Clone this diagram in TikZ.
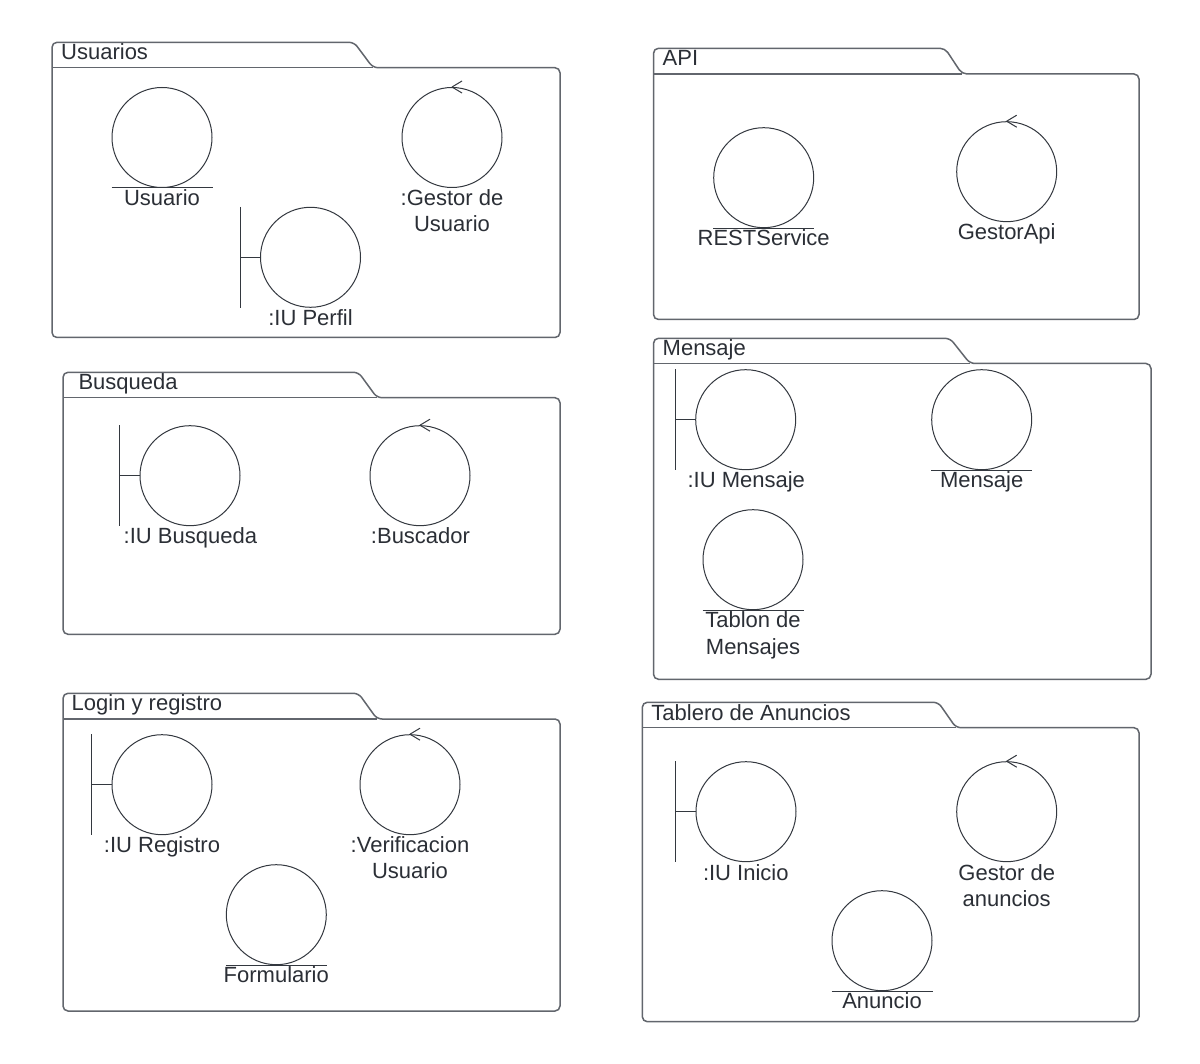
\documentclass[tikz,border=0pt]{standalone}
\usepackage{fontspec}
\setmainfont{Liberation Sans}
\definecolor{txtcol}{HTML}{2B2F36}
\definecolor{pkgcol}{HTML}{62666D}
\definecolor{objcol}{HTML}{33383F}
\newcommand{\lblfont}{\fontsize{22}{26}\selectfont}
\tikzset{
  pkg/.style={draw=pkgcol, line width=1.5pt, rounded corners=5pt},
  pkgline/.style={draw=pkgcol, line width=1.5pt},
  obj/.style={circle, draw=objcol, line width=1pt, minimum size=100pt, inner sep=0pt},
  objline/.style={draw=objcol, line width=1pt},
  lbl/.style={text=txtcol, font=\lblfont, anchor=base, inner sep=0pt},
  ttl/.style={text=txtcol, font=\lblfont, anchor=base west, inner sep=0pt}
}
\begin{document}
\begin{tikzpicture}[x=1pt,y=-1pt]
\useasboundingbox (0,0) rectangle (1200,1064);
\fill[white] (0,0) rectangle (1200,1064);

% ---------- Usuarios ----------
\draw[pkg] (52,67.7) -- (52,42.3) -- (354,42.3) -- (373,67.7) -- (560,67.7) -- (560,337.5) -- (52,337.5) -- cycle;
\draw[pkgline] (52,67.7) -- (373,67.7);
\node[ttl] (tUsuarios) at (61,59.5) {Usuarios};
\node[obj] (usuario) at (162,137.5) {};
\draw[objline] (usuario.south -| usuario.west) -- (usuario.south -| usuario.east);
\node[lbl] (lUsuario) at (162,205.7) {Usuario};
\node[obj] (gestorU) at (452,137.5) {};
\draw[objline] (gestorU.north) -- ++(10,-6) (gestorU.north) -- ++(10,6);
\node[lbl] (lGestorU1) at (452,205.7) {:Gestor de};
\node[lbl] (lGestorU2) at (452,231.7) {Usuario};
\node[obj] (iuPerfil) at (310.5,257.3) {};
\draw[objline] (iuPerfil.west) -- ++(-20,0) coordinate (bPerfil);
\draw[objline] (bPerfil |- iuPerfil.north) -- (bPerfil |- iuPerfil.south);
\node[lbl] (lPerfil) at (310.5,325.7) {:IU Perfil};

% ---------- Busqueda ----------
\draw[pkg] (63,397.7) -- (63,372.3) -- (358.5,372.3) -- (377,397.7) -- (560,397.7) -- (560,634.3) -- (63,634.3) -- cycle;
\draw[pkgline] (63,397.7) -- (377,397.7);
\node[ttl] (tBusqueda) at (78.3,390) {Busqueda};
\node[obj] (iuBusq) at (190,475.7) {};
\draw[objline] (iuBusq.west) -- ++(-20,0) coordinate (bBusq);
\draw[objline] (bBusq |- iuBusq.north) -- (bBusq |- iuBusq.south);
\node[lbl] (lBusq) at (190.4,543.5) {:IU Busqueda};
\node[obj] (buscador) at (420,475.7) {};
\draw[objline] (buscador.north) -- ++(10,-6) (buscador.north) -- ++(10,6);
\node[lbl] (lBuscador) at (420.5,543.5) {:Buscador};

% ---------- Login y registro ----------
\draw[pkg] (63,719) -- (63,693.3) -- (358.5,693.3) -- (377,719) -- (560,719) -- (560,1011) -- (63,1011) -- cycle;
\draw[pkgline] (63,719) -- (377,719);
\node[ttl] (tLogin) at (71.5,710.7) {Login y registro};
\node[obj] (iuReg) at (162,784.7) {};
\draw[objline] (iuReg.west) -- ++(-20,0) coordinate (bReg);
\draw[objline] (bReg |- iuReg.north) -- (bReg |- iuReg.south);
\node[lbl] (lReg) at (162,852.7) {:IU Registro};
\node[obj] (verif) at (410,784.7) {};
\draw[objline] (verif.north) -- ++(10,-6) (verif.north) -- ++(10,6);
\node[lbl] (lVerif1) at (410,852.7) {:Verificacion};
\node[lbl] (lVerif2) at (410,878.7) {Usuario};
\node[obj] (formulario) at (276.3,914.7) {};
\draw[objline] (formulario.south -| formulario.west) -- (formulario.south -| formulario.east);
\node[lbl] (lForm) at (276.3,982.7) {Formulario};

% ---------- API ----------
\draw[pkg] (653.5,74) -- (653.5,48.3) -- (945,48.3) -- (962,74) -- (1139,74) -- (1139,319.5) -- (653.5,319.5) -- cycle;
\draw[pkgline] (653.5,74) -- (962,74);
\node[ttl] (tAPI) at (662.5,65.3) {API};
\node[obj] (rest) at (763.7,177.7) {};
\draw[objline] (rest.south -| rest.west) -- (rest.south -| rest.east);
\node[lbl] (lRest) at (763.7,245.3) {RESTService};
\node[obj] (gestorApi) at (1006.7,171.7) {};
\draw[objline] (gestorApi.north) -- ++(10,-6) (gestorApi.north) -- ++(10,6);
\node[lbl] (lGestorApi) at (1006.7,239.5) {GestorApi};

% ---------- Mensaje ----------
\draw[pkg] (653.5,363.5) -- (653.5,338.3) -- (950,338.3) -- (970,363.5) -- (1151,363.5) -- (1151,679.3) -- (653.5,679.3) -- cycle;
\draw[pkgline] (653.5,363.5) -- (970,363.5);
\node[ttl] (tMensaje) at (662.5,356) {Mensaje};
\node[obj] (iuMens) at (745.7,419.7) {};
\draw[objline] (iuMens.west) -- ++(-20,0) coordinate (bMens);
\draw[objline] (bMens |- iuMens.north) -- (bMens |- iuMens.south);
\node[lbl] (lIuMens) at (746.3,487.7) {:IU Mensaje};
\node[obj] (mensaje) at (981.7,419.7) {};
\draw[objline] (mensaje.south -| mensaje.west) -- (mensaje.south -| mensaje.east);
\node[lbl] (lMensaje) at (981.7,487.7) {Mensaje};
\node[obj] (tablon) at (753,559.7) {};
\draw[objline] (tablon.south -| tablon.west) -- (tablon.south -| tablon.east);
\node[lbl] (lTablon1) at (753,627.7) {Tablon de};
\node[lbl] (lTablon2) at (753,654) {Mensajes};

% ---------- Tablero de Anuncios ----------
\draw[pkg] (642.3,727.7) -- (642.3,702.3) -- (938.3,702.3) -- (956,727.7) -- (1139,727.7) -- (1139,1021.7) -- (642.3,1021.7) -- cycle;
\draw[pkgline] (642.3,727.7) -- (956,727.7);
\node[ttl] (tTablero) at (651.2,720) {Tablero de Anuncios};
\node[obj] (iuInicio) at (746,811.7) {};
\draw[objline] (iuInicio.west) -- ++(-20,0) coordinate (bInicio);
\draw[objline] (bInicio |- iuInicio.north) -- (bInicio |- iuInicio.south);
\node[lbl] (lInicio) at (745.8,880) {:IU Inicio};
\node[obj] (gestorAn) at (1006.7,811.7) {};
\draw[objline] (gestorAn.north) -- ++(10,-6) (gestorAn.north) -- ++(10,6);
\node[lbl] (lGestorAn1) at (1006.7,880) {Gestor de};
\node[lbl] (lGestorAn2) at (1006.7,906) {anuncios};
\node[obj] (anuncio) at (882,940.7) {};
\draw[objline] (anuncio.south -| anuncio.west) -- (anuncio.south -| anuncio.east);
\node[lbl] (lAnuncio) at (882,1008.3) {Anuncio};
\end{tikzpicture}
\end{document}
